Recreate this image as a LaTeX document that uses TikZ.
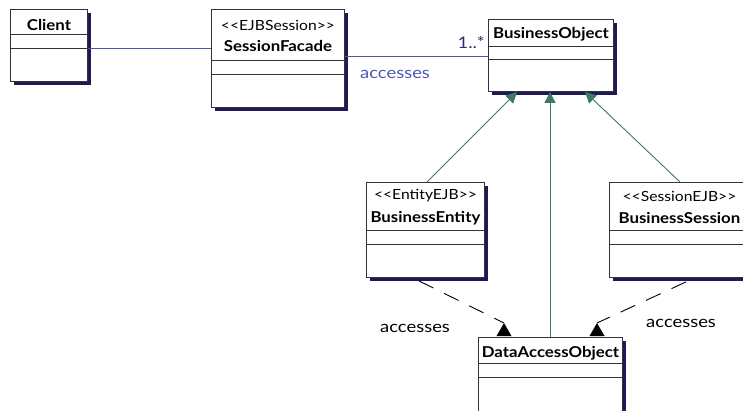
\documentclass[tikz,border=0pt]{standalone}
\usepackage{fontspec}
\setmainfont{Lato}
\newfontfamily\uifont{Lato}[FakeStretch=1.12]
\newfontfamily\lbfont{Lato}[FakeStretch=1.15]
\usetikzlibrary{arrows.meta,shadows}
\definecolor{navy}{HTML}{1E1A5A}
\definecolor{boxline}{HTML}{333333}
\definecolor{assoc}{HTML}{4A58B0}
\definecolor{mult}{HTML}{2E2D78}
\definecolor{gen}{HTML}{3E7866}
\newcommand{\stl}{<\kern0pt<}
\newcommand{\stg}{>\kern0pt>}
\tikzset{
  cls/.style={draw=boxline, fill=white, line width=0.9pt, inner sep=0pt, anchor=north west,
    general shadow={fill=navy, shadow xshift=4pt, shadow yshift=-4pt}},
  sep/.style={draw=boxline, line width=0.9pt},
  cname/.style={font=\uifont\bfseries\fontsize{15}{17}\selectfont, inner sep=0pt},
  stereo/.style={font=\uifont\fontsize{14}{16}\selectfont, inner sep=0pt},
  lbl/.style={font=\lbfont\fontsize{16}{18}\selectfont, inner sep=0pt},
  assocline/.style={draw=assoc, line width=0.8pt},
  genline/.style={draw=gen, line width=0.9pt, -{Triangle[length=11pt,width=11pt]}},
  depline/.style={draw=black, line width=0.9pt, dash pattern=on 16pt off 12pt},
  deptip/.style={fill=black, draw=none}
}
\begin{document}
\begin{tikzpicture}[x=1pt,y=-1pt]
\useasboundingbox (0,0) rectangle (743,410);
% Client
\node[cls, minimum width=77pt, minimum height=72pt] (client) at (10,9) {};
\draw[sep] ([yshift=-25pt]client.north west) -- ([yshift=-25pt]client.north east);
\draw[sep] ([yshift=-39pt]client.north west) -- ([yshift=-39pt]client.north east);
\node[cname] (clientn) at ([yshift=-16pt]client.north) {Client};
% SessionFacade
\node[cls, minimum width=133pt, minimum height=98pt] (sf) at (211,9) {};
\draw[sep] ([yshift=-51pt]sf.north west) -- ([yshift=-51pt]sf.north east);
\draw[sep] ([yshift=-65pt]sf.north west) -- ([yshift=-65pt]sf.north east);
\node[stereo] (sfs) at ([yshift=-16pt]sf.north) {\stl EJBSession\stg};
\node[cname] (sfn) at ([yshift=-37pt]sf.north) {SessionFacade};
% BusinessObject
\node[cls, minimum width=125pt, minimum height=72pt] (bo) at (488,19) {};
\draw[sep] ([yshift=-27pt]bo.north west) -- ([yshift=-27pt]bo.north east);
\draw[sep] ([yshift=-40pt]bo.north west) -- ([yshift=-40pt]bo.north east);
\node[cname] (bon) at ([yshift=-15pt]bo.north) {BusinessObject};
% BusinessEntity
\node[cls, minimum width=118pt, minimum height=95pt] (be) at (366,182) {};
\draw[sep] ([yshift=-48pt]be.north west) -- ([yshift=-48pt]be.north east);
\draw[sep] ([yshift=-62pt]be.north west) -- ([yshift=-62pt]be.north east);
\node[stereo] (bes) at ([yshift=-14pt]be.north) {\stl EntityEJB\stg};
\node[cname] (ben) at ([yshift=-36pt]be.north) {BusinessEntity};
% BusinessSession
\node[cls, minimum width=140pt, minimum height=95pt] (bs) at (609,182) {};
\draw[sep] ([yshift=-48pt]bs.north west) -- ([yshift=-48pt]bs.north east);
\draw[sep] ([yshift=-62pt]bs.north west) -- ([yshift=-62pt]bs.north east);
\node[stereo] (bss) at ([yshift=-14pt]bs.north) {\stl SessionEJB\stg};
\node[cname] (bsn) at ([yshift=-36pt]bs.north) {BusinessSession};
% DataAccessObject
\node[cls, minimum width=144pt, minimum height=80pt] (dao) at (478,337) {};
\draw[sep] ([yshift=-26pt]dao.north west) -- ([yshift=-26pt]dao.north east);
\draw[sep] ([yshift=-40pt]dao.north west) -- ([yshift=-40pt]dao.north east);
\node[cname] (daon) at ([yshift=-16pt]dao.north) {DataAccessObject};
% associations
\draw[assocline] (client.east |- 0,48) -- (sf.west |- 0,48);
\draw[assocline] (sf.east |- 0,56) -- (bo.west |- 0,56);
\node[lbl, text=mult, anchor=base east] (m1) at (485,48) {1..*};
\node[lbl, text=assoc, anchor=base west] (a1) at (360,78) {accesses};
% generalizations
\draw[genline] (be.north -| 427,0) -- (bo.south -| 517,0);
\draw[genline] (dao.north -| 550,0) -- (bo.south -| 550,0);
\draw[genline] (bs.north -| 680,0) -- (bo.south -| 585,0);
% dependencies
\coordinate (t1) at (504,323);
\coordinate (t2) at (597,323);
\draw[depline] (be.south -| 419,0) ++(0,3) -- (t1);
\draw[depline] (bs.south -| 686,0) ++(0,4) -- (t2);
\fill[deptip] (t1) -- (511.5,336) -- (496.5,336) -- cycle;
\fill[deptip] (t2) -- (604.5,336) -- (589.5,336) -- cycle;
\node[lbl, anchor=base west] (a2) at (380,332) {accesses};
\node[lbl, anchor=base west] (a3) at (646,327) {accesses};
\end{tikzpicture}
\end{document}
